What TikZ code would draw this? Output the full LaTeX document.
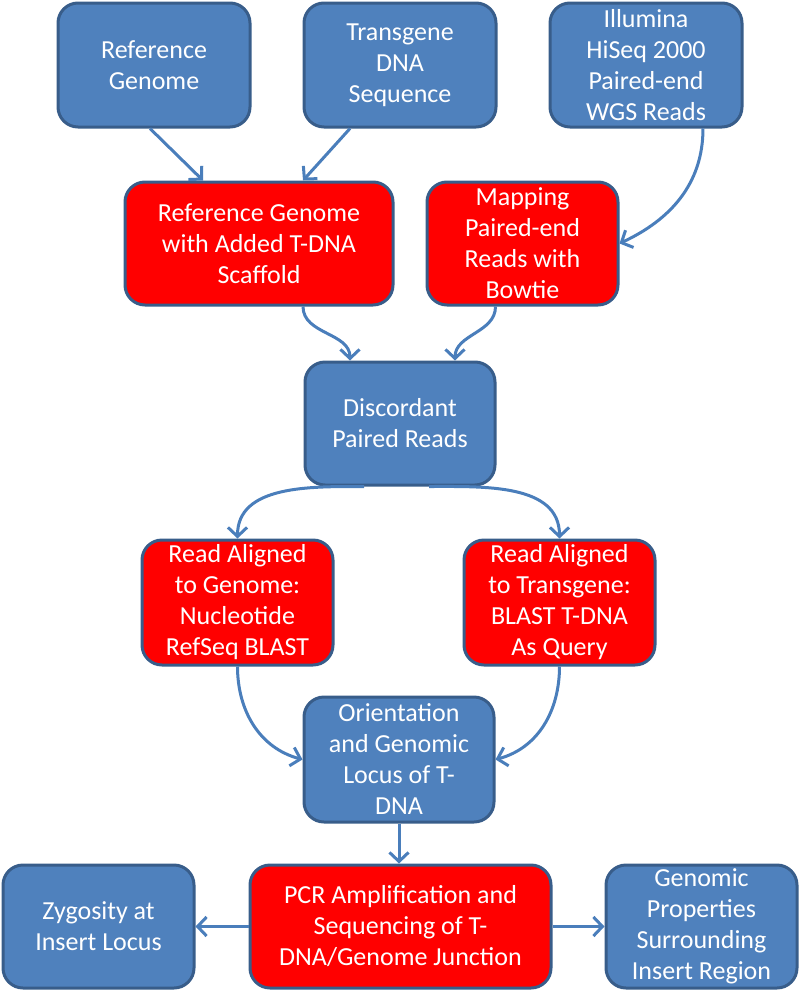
\documentclass[tikz,border=0pt]{standalone}
\usepackage{fontspec}
\setmainfont{Carlito}
\usetikzlibrary{arrows.meta}
\definecolor{boxblue}{HTML}{4F81BD}
\definecolor{boxline}{HTML}{385D8A}
\definecolor{boxred}{HTML}{FF0000}
\definecolor{arrowblue}{HTML}{4A7EBB}
\tikzset{
  basebox/.style={draw=boxline, line width=3pt, rounded corners=20pt, text=white,
    align=center, inner sep=0pt, minimum height=124pt,
    font=\fontsize{26pt}{31pt}\selectfont},
  bluebox/.style={basebox, fill=boxblue},
  redbox/.style={basebox, fill=boxred},
  conn/.style={draw=arrowblue, line width=3pt,
    -{Straight Barb[length=9pt,width=19pt,line width=3pt]}}
}
\begin{document}
\begin{tikzpicture}[x=1pt,y=-1pt]
\useasboundingbox (0,0) rectangle (800,991);
% top row
\node[bluebox, minimum width=192pt] (ref) at (154,65) {Reference\\Genome};
\node[bluebox, minimum width=192pt] (trans) at (400,65) {Transgene\\DNA\\Sequence};
\node[bluebox, minimum width=192pt] (illum) at (646,65) {Illumina\\HiSeq 2000\\Paired-end\\WGS Reads};
% second row
\node[redbox, minimum width=268pt, minimum height=123pt] (refT) at (259,243.5) {Reference Genome\\with Added T-DNA\\Scaffold};
\node[redbox, minimum width=191pt, minimum height=123pt] (map) at (522.5,243.5) {Mapping\\Paired-end\\Reads with\\Bowtie};
% third
\node[bluebox, minimum width=190pt, minimum height=123pt] (disc) at (400,423.5) {Discordant\\Paired Reads};
% fourth
\node[redbox, minimum width=191pt, minimum height=125pt] (readG) at (237.5,602.5) {Read Aligned\\to Genome:\\Nucleotide\\RefSeq BLAST};
\node[redbox, minimum width=191pt, minimum height=125pt] (readT) at (559.5,602.5) {Read Aligned\\to Transgene:\\BLAST T-DNA\\As Query};
% fifth
\node[bluebox, minimum width=190pt, minimum height=125pt] (orient) at (399,759.5) {Orientation\\and Genomic\\Locus of T-\\DNA};
% bottom row
\node[redbox, minimum width=301pt, minimum height=123pt] (pcr) at (400.5,926.5) {PCR Amplification and\\Sequencing of T-\\DNA/Genome Junction};
\node[bluebox, minimum width=191pt, minimum height=123pt] (zyg) at (98.5,926.5) {Zygosity at\\Insert Locus};
\node[bluebox, minimum width=191pt, minimum height=123pt] (gprop) at (701.5,926.5) {Genomic\\Properties\\Surrounding\\Insert Region};
% connectors
\draw[conn] ([xshift=-4pt]ref.south) -- ([xshift=-56pt]refT.north);
\draw[conn] ([xshift=-50pt]trans.south) -- ([xshift=44pt]refT.north);
\draw[conn] ([xshift=57pt]illum.south) to[out=-90,in=25] (map.east);
\draw[conn] ([xshift=44pt]refT.south) to[out=-90,in=90] ([xshift=-50pt]disc.north);
\draw[conn] ([xshift=-27pt]map.south) to[out=-90,in=90] ([xshift=55pt]disc.north);
\draw[conn] ([xshift=-36pt]disc.south) to[out=180,in=90] (readG.north);
\draw[conn] ([xshift=29pt]disc.south) to[out=0,in=90] (readT.north);
\draw[conn] (readG.south) to[out=-90,in=165] (orient.west);
\draw[conn] (readT.south) to[out=-90,in=15] (orient.east);
\draw[conn] (orient.south) -- (orient.south |- pcr.north);
\draw[conn] (pcr.west) -- (zyg.east);
\draw[conn] (pcr.east) -- (gprop.west);
\end{tikzpicture}
\end{document}
